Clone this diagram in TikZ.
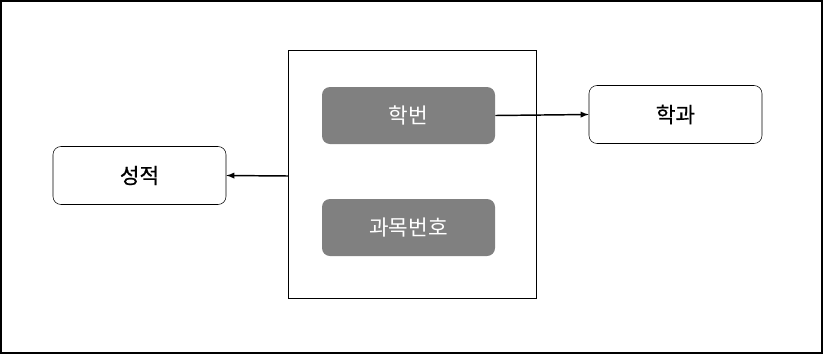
\documentclass[tikz,border=0pt]{standalone}
\usepackage{fontspec}
\setmainfont{Noto Sans CJK KR}
\begin{document}
\begin{tikzpicture}[x=0.75pt,y=-0.75pt,
  keybox/.style={fill=white!50!black, rounded corners=6pt, minimum width=129.75pt, minimum height=42.75pt, text=white, font=\fontsize{16}{19}\selectfont},
  attrbox/.style={draw, rounded corners=6pt, minimum width=129.75pt, minimum height=43.5pt, font=\fontsize{16}{19}\selectfont\addfontfeatures{FakeBold=0.6}}]
\useasboundingbox (0,0) rectangle (823,354);
% frame
\draw[line width=1.2pt] (1,1) rectangle (822,353);
% key
\draw (288.5,50.5) rectangle (536.5,298.5);
\node[keybox] (hakbeon) at (408.5,115.5) {학번};
\node[keybox] (gwamok) at (408.5,227.5) {과목번호};
% attributes
\node[attrbox] (hakgwa) at (675.5,114.5) {학과};
\node[attrbox] (seongjeok) at (139.5,175.5) {성적};
\coordinate (keyleft) at (288.5,176);
% links
\draw[-latex, line width=1.1pt] (hakbeon.east) -- (hakgwa.west);
\draw[-latex, line width=1.1pt] (keyleft) -- (seongjeok.east);
\end{tikzpicture}
\end{document}
